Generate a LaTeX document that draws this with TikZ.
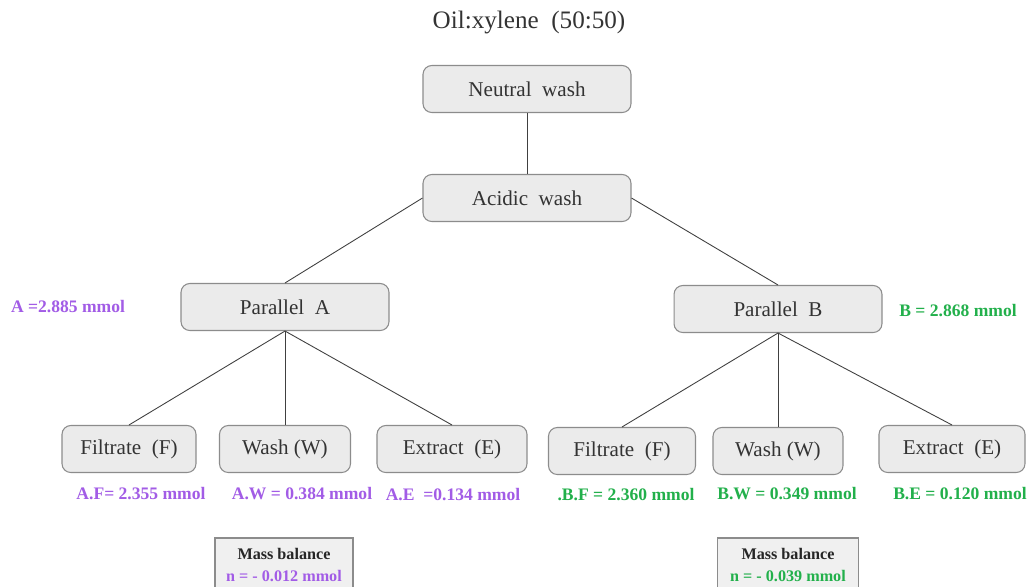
\documentclass[tikz,border=0pt]{standalone}
\usepackage{fontspec}
\setmainfont{Liberation Serif}
\usepackage{xcolor}
\usetikzlibrary{positioning}
\definecolor{boxfill}{HTML}{EBEBEB}
\definecolor{boxline}{HTML}{8C8C8C}
\definecolor{linkgray}{HTML}{404040}
\definecolor{molA}{HTML}{A25CE6}
\definecolor{molB}{HTML}{22B04B}

\begin{document}
\begin{tikzpicture}[x=0.02cm, y=-0.02cm]
	\tikzset{
		stage/.style={draw=boxline, fill=boxfill, rounded corners=5pt, line width=0.6pt,
			minimum width=4.16cm, minimum height=0.94cm, text=black!80,
			font=\fontsize{12}{14}\selectfont},
		link/.style={draw=linkgray, line width=0.5pt},
		labA/.style={text=molA, font=\fontsize{10}{12}\selectfont\bfseries},
		labB/.style={text=molB, font=\fontsize{10}{12}\selectfont\bfseries},
		balance/.style={draw=boxline, fill=black!6, line width=0.6pt, align=center,
			minimum width=2.76cm, minimum height=1.08cm, text=black!85,
			font=\fontsize{9.2}{12}\selectfont\bfseries}
	}
	\clip (0,0) rectangle (1028,586);
	\fill[white] (0,0) rectangle (1028,586);
	% title
	\node [font=\fontsize{14.3}{17}\selectfont, text=black!80] (title) at (529,22) {Oil:xylene~~(50:50)};
	% washing steps
	\node [stage] (neutral) at (527,89) {Neutral~~wash};
	\node [stage] (acidic) at (527,198) {Acidic~~wash};
	\node [stage] (parA) at (285,307) {Parallel~~A};
	\node [stage] (parB) at (778,309) {Parallel~~B};
	% fractions
	\node [stage, minimum width=2.68cm] (filA) at (129,449) {Filtrate~~(F)};
	\node [stage, minimum width=2.62cm] (washA) at (285,449) {Wash (W)};
	\node [stage, minimum width=3.0cm] (extA) at (452,449) {Extract~~(E)};
	\node [stage, minimum width=2.94cm] (filB) at (622,451) {Filtrate~~(F)};
	\node [stage, minimum width=2.6cm] (washB) at (778,451) {Wash (W)};
	\node [stage, minimum width=2.92cm] (extB) at (952,449) {Extract~~(E)};
	% connectors
	\draw [link] (neutral) -- (acidic);
	\draw [link] (acidic.west) -- (parA.north);
	\draw [link] (acidic.east) -- (parB.north);
	\foreach \f in {filA,washA,extA}
		\draw [link] (parA.south) -- (\f.north);
	\foreach \f in {filB,washB,extB}
		\draw [link] (parB.south) -- (\f.north);
	% amounts
	\node [labA] (molParA) at (68,307) {A =2.885 mmol};
	\node [labB] (molParB) at (958,311) {B = 2.868 mmol};
	\node [labA] (molFilA) at (141,494) {A.F= 2.355 mmol};
	\node [labA] (molWashA) at (302,494) {A.W = 0.384 mmol};
	\node [labA] (molExtA) at (453,495) {A.E~ =0.134 mmol};
	\node [labB] (molFilB) at (626,495) {.B.F = 2.360 mmol};
	\node [labB] (molWashB) at (787,494) {B.W = 0.349 mmol};
	\node [labB] (molExtB) at (960,494) {B.E = 0.120 mmol};
	% mass balance
	\node [balance] (balA) at (284,565) {Mass balance\\\textcolor{molA}{n = - 0.012 mmol}};
	\node [balance, minimum width=2.82cm] (balB) at (788,565) {Mass balance\\\textcolor{molB}{n = - 0.039 mmol}};
\end{tikzpicture}
\end{document}
